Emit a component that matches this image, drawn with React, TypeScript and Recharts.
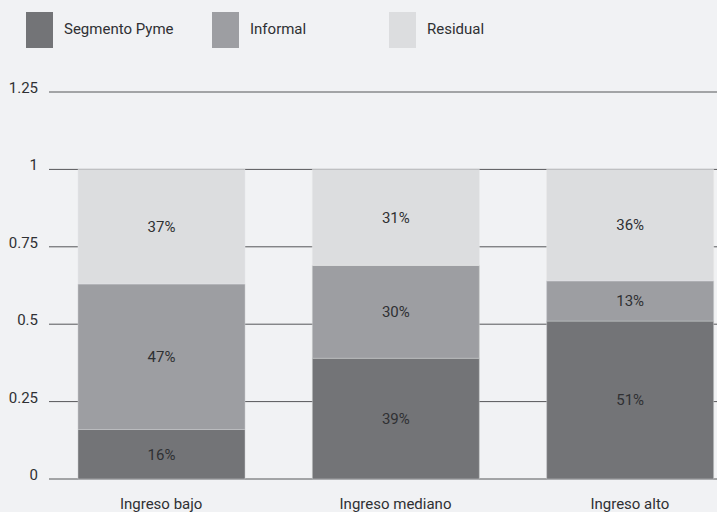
import React from 'react';
import { BarChart, Bar, XAxis, YAxis, CartesianGrid, Legend, LabelList } from 'recharts';

const categories = ['Ingreso bajo', 'Ingreso mediano', 'Ingreso alto'];
const pyme = [0.16, 0.39, 0.51];
const informal = [0.47, 0.3, 0.13];
const residual = [0.37, 0.31, 0.36];
const yTicks = [0, 0.25, 0.5, 0.75, 1, 1.25];
const seriesNames = ['Segmento Pyme', 'Informal', 'Residual'];
const seriesColors = ['#737477', '#9d9ea2', '#dcdddf'];

const FONT = 'Roboto, "Liberation Sans", sans-serif';
const TEXT = '#2f3033';

const data = categories.map((name, i) => ({
  name,
  pyme: pyme[i],
  informal: informal[i],
  residual: residual[i],
}));

const pct = (v: any) => `${Math.round(Number(v) * 100)}%`;

const YTick = (props: any) => {
  const { x, y, payload } = props;
  return (
    <text x={x} y={y} dy={1} textAnchor="end" fill={TEXT} fontSize={15} fontFamily={FONT}>
      {String(payload.value)}
    </text>
  );
};

const XTick = (props: any) => {
  const { x, payload } = props;
  // baseline a fixed distance under the zero line
  return (
    <text x={x} y={509} textAnchor="middle" fill={TEXT} fontSize={15} fontFamily={FONT}>
      {payload.value}
    </text>
  );
};

const GridLine = (props: any) => {
  const { x1, y1, x2, y2 } = props;
  return <line x1={x1 + 5} y1={y1} x2={x2} y2={y2} stroke="#555659" strokeWidth={1} />;
};

const LegendBox = () => {
  const widths = [186, 177, 160];
  return (
    <div style={{ display: 'flex', fontFamily: FONT, fontSize: 15, color: TEXT }}>
      {seriesNames.map((n, i) => (
        <div key={n} style={{ display: 'flex', alignItems: 'center', width: widths[i] }}>
          <span style={{ width: 27, height: 36, background: seriesColors[i], display: 'inline-block' }} />
          <span style={{ marginLeft: 11, marginTop: -3 }}>{n}</span>
        </div>
      ))}
    </div>
  );
};

export default function App() {
  return (
    <div
      style={{
        position: 'absolute',
        left: 0,
        top: 0,
        width: 717,
        height: 512,
        overflow: 'hidden',
        background: '#f1f2f4',
      }}
    >
      <BarChart width={747} height={512} data={data} margin={{ top: 92, right: 0, left: 0, bottom: 0 }} barSize={167}>
        <CartesianGrid vertical={false} horizontal={GridLine} />
        <XAxis dataKey="name" axisLine={false} tickLine={false} height={33} tick={XTick} interval={0} />
        <YAxis
          width={44}
          domain={[0, 1.25]}
          ticks={yTicks}
          axisLine={false}
          tickLine={false}
          tickMargin={0}
          tick={YTick}
          interval={0}
        />
        <Legend
          verticalAlign="middle"
          layout="horizontal"
          content={LegendBox}
          wrapperStyle={{ top: 12, left: 26, width: 600 }}
        />
        <Bar dataKey="pyme" name={seriesNames[0]} stackId="a" fill={seriesColors[0]} stroke="#c9cacd" strokeWidth={0.5} isAnimationActive={false}>
          <LabelList dataKey="pyme" position="center" formatter={pct} fill={TEXT} fontSize={15} fontFamily={FONT} />
        </Bar>
        <Bar dataKey="informal" name={seriesNames[1]} stackId="a" fill={seriesColors[1]} stroke="#c9cacd" strokeWidth={0.5} isAnimationActive={false}>
          <LabelList dataKey="informal" position="center" formatter={pct} fill={TEXT} fontSize={15} fontFamily={FONT} />
        </Bar>
        <Bar dataKey="residual" name={seriesNames[2]} stackId="a" fill={seriesColors[2]} stroke="#e6e7e9" strokeWidth={0.5} isAnimationActive={false}>
          <LabelList dataKey="residual" position="center" formatter={pct} fill={TEXT} fontSize={15} fontFamily={FONT} />
        </Bar>
      </BarChart>
    </div>
  );
}
